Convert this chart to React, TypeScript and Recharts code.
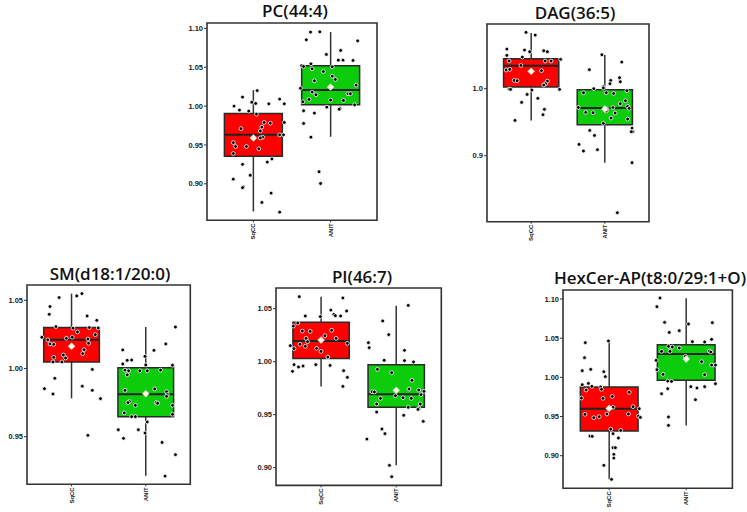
import React from 'react';
import { ComposedChart, Scatter, XAxis, YAxis, ReferenceArea, ReferenceLine } from 'recharts';

type Pt = [number, number];

const groups = ['SqCC', 'ANIT'];
const boxColors = ['#ff0000', '#0ccc0c'];

// stats per group: [lowerWhisker, q1, median, q3, upperWhisker, mean]
const pcStats = [
  [0.8644, 0.9356, 0.9631, 0.9906, 1.0206, 0.959],
  [0.9605, 1.0017, 1.0206, 1.0519, 1.0953, 1.0245],
];
const pcSqcc: Pt[] = [[1.05,1.020],[0.86,1.0116],[0.75,1.000],[0.82,0.9949],[0.94,0.9936],[0.98,1.005],[1.03,1.0034],[1.20,1.003],[1.34,1.009],[1.40,1.003],[1.04,0.9897],[1.14,0.979],[1.22,0.978],[1.40,0.979],[0.84,0.971],[1.11,0.973],[1.09,0.968],[1.12,0.960],[1.09,0.959],[1.34,0.963],[1.39,0.963],[0.74,0.953],[0.77,0.948],[0.91,0.948],[0.74,0.939],[1.07,0.945],[1.18,0.928],[1.24,0.932],[0.86,0.925],[0.96,0.911],[0.74,0.906],[0.87,0.896],[0.86,0.895],[1.23,0.888],[1.11,0.876],[1.34,0.8635]];
const pcAnit: Pt[] = [[1.74,1.0953],[1.86,1.0957],[1.685,1.0854],[2.35,1.084],[1.945,1.0665],[2.13,1.0717],[2.10,1.0592],[2.16,1.0592],[2.29,1.0588],[1.745,1.0545],[1.625,1.052],[1.65,1.051],[2.02,1.0506],[1.76,1.048],[1.905,1.0446],[2.02,1.0386],[2.06,1.0343],[1.79,1.0326],[1.61,1.023],[2.33,1.027],[1.76,1.018],[1.81,1.0146],[2.225,1.0159],[2.255,1.0159],[1.72,1.0086],[1.64,1.0056],[2.00,1.0077],[2.165,1.0073],[2.31,1.0017],[1.95,0.9987],[2.12,0.9974],[2.11,0.996],[1.65,0.994],[1.79,0.991],[1.65,0.9777],[1.745,0.960],[1.85,0.9155],[1.87,0.9004]];

const dagStats = [
  [0.9527, 1.0025, 1.0343, 1.0448, 1.0831, 1.0259],
  [0.8896, 0.9463, 0.9711, 0.9985, 1.0502, 0.9697],
];
const dagSqcc: Pt[] = [[0.93,1.0841],[1.055,1.080],[0.67,1.0592],[0.98,1.0552],[1.17,1.0567],[0.91,1.0577],[1.22,1.0552],[0.67,1.0498],[0.70,1.0413],[0.88,1.0473],[1.19,1.0413],[1.27,1.0413],[1.40,1.0438],[0.66,1.0279],[0.71,1.0289],[0.86,1.0348],[1.14,1.0269],[0.77,1.0124],[0.81,1.0119],[1.22,1.0114],[1.195,1.0075],[1.17,1.0055],[0.70,0.9995],[0.72,0.999],[1.01,0.998],[1.385,0.999],[0.945,0.9915],[1.09,0.9856],[0.87,0.9796],[1.18,0.9692],[1.16,0.9612],[0.78,0.9527]];
const dagAnit: Pt[] = [[1.96,1.0507],[2.23,1.0398],[1.79,1.0284],[2.20,1.0164],[2.08,1.0124],[2.21,1.0104],[2.07,1.0075],[1.98,1.003],[1.98,1.001],[1.85,1.000],[2.30,0.997],[1.71,0.994],[2.02,0.994],[2.12,0.993],[2.28,0.982],[2.21,0.9776],[2.11,0.972],[2.31,0.9736],[2.33,0.9706],[1.64,0.972],[1.74,0.9647],[1.84,0.9642],[2.02,0.9667],[2.03,0.9697],[2.14,0.9637],[2.085,0.9562],[2.31,0.9547],[1.98,0.9483],[1.795,0.9378],[1.86,0.9303],[2.37,0.9413],[2.38,0.9358],[2.36,0.9358],[1.65,0.9169],[1.71,0.907],[1.90,0.909],[2.37,0.8896],[2.17,0.8149]];

const smStats = [
  [0.9781, 1.0048, 1.0211, 1.030, 1.0549, 1.0163],
  [0.9214, 0.9647, 0.9811, 1.0006, 1.0304, 0.9815],
];
const smSqcc: Pt[] = [[0.833,1.052],[1.07,1.0532],[1.14,1.0549],[0.71,1.0454],[0.70,1.0397],[1.21,1.0385],[1.34,1.0353],[0.79,1.0307],[1.02,1.0295],[1.24,1.030],[1.36,1.0297],[1.32,1.0248],[0.60,1.0229],[0.68,1.0211],[0.93,1.0221],[1.08,1.0268],[1.01,1.0229],[1.22,1.0216],[0.71,1.018],[0.76,1.0177],[1.23,1.0185],[1.17,1.0138],[0.89,1.0099],[1.15,1.0109],[0.76,1.0082],[0.92,1.0077],[0.75,1.0048],[0.87,1.0048],[1.28,0.9993],[0.775,0.9928],[0.635,0.9852],[1.145,0.987],[1.28,0.984],[0.75,0.9813],[1.39,0.9779],[1.22,0.951]];
const smAnit: Pt[] = [[2.40,1.0304],[2.27,1.018],[1.69,1.0136],[2.11,1.0133],[1.99,1.0089],[1.75,1.006],[1.81,1.0062],[1.69,1.0033],[2.0,1.0026],[2.36,1.0024],[1.72,0.9988],[1.77,0.9983],[1.92,0.9983],[2.02,0.9983],[2.20,0.9988],[1.75,0.9953],[1.72,0.984],[2.12,0.985],[2.28,0.983],[2.29,0.9808],[2.28,0.9796],[1.78,0.9757],[1.76,0.975],[2.14,0.975],[2.16,0.9745],[1.86,0.973],[2.36,0.973],[1.71,0.9674],[1.81,0.9647],[1.86,0.9647],[2.36,0.9664],[2.02,0.9608],[1.63,0.9551],[1.90,0.9551],[1.99,0.9527],[1.70,0.9488],[2.22,0.9458],[2.40,0.9368],[2.26,0.9211]];

const piStats = [
  [0.9767, 1.0031, 1.0195, 1.0371, 1.0613, 1.0204],
  [0.9022, 0.957, 0.9692, 0.9972, 1.0528, 0.973],
];
const piSqcc: Pt[] = [[0.71,1.0613],[1.29,1.0601],[0.79,1.0431],[0.99,1.0425],[1.13,1.0487],[1.17,1.0447],[1.19,1.0434],[1.26,1.0431],[1.34,1.0478],[0.69,1.0365],[0.63,1.0336],[0.75,1.0289],[0.855,1.0286],[1.14,1.0296],[1.05,1.0245],[1.20,1.022],[0.80,1.022],[0.82,1.0189],[0.72,1.0164],[0.59,1.0151],[0.79,1.0145],[0.64,1.0123],[0.94,1.0126],[1.0,1.0097],[1.35,1.0173],[1.09,1.0044],[0.64,0.9972],[0.93,0.9972],[1.12,0.9965],[0.70,0.995],[0.76,0.9959],[0.62,0.9909],[1.30,0.9915],[1.35,0.9852],[1.29,0.9767]];
const piAnit: Pt[] = [[2.16,1.0531],[1.82,1.0384],[1.90,1.0255],[1.63,1.0179],[1.64,1.0132],[2.11,1.0107],[2.23,0.9997],[1.84,1.0013],[2.11,1.001],[1.75,0.9928],[1.94,0.9896],[2.21,0.9824],[1.68,0.9717],[1.71,0.9714],[2.17,0.9742],[2.30,0.9733],[2.37,0.972],[1.99,0.9679],[2.33,0.9689],[2.09,0.966],[1.79,0.9654],[2.20,0.9654],[1.74,0.9601],[2.32,0.9601],[2.16,0.957],[2.30,0.956],[2.29,0.955],[1.74,0.9525],[2.10,0.9494],[2.36,0.9437],[1.81,0.9365],[1.85,0.9321],[1.61,0.927],[1.91,0.9022],[1.94,0.8915]];

const hexStats = [
  [0.8698, 0.9315, 0.960, 0.9877, 1.0472, 0.9604],
  [0.9387, 0.9962, 1.0298, 1.0417, 1.1009, 1.0234],
];
const hexSqcc: Pt[] = [[0.69,1.0443],[0.99,1.0464],[0.68,1.0251],[0.65,1.0085],[0.76,1.0102],[0.93,1.0072],[0.95,1.0009],[0.65,0.9906],[0.73,0.9923],[0.775,0.9885],[0.89,0.9877],[0.90,0.9847],[0.70,0.9838],[0.64,0.9736],[0.92,0.9732],[1.04,0.9757],[1.26,0.9809],[0.685,0.9528],[0.80,0.9485],[0.87,0.9498],[0.97,0.9532],[1.05,0.9617],[1.25,0.9532],[1.31,0.9626],[1.39,0.960],[1.38,0.9506],[1.405,0.9489],[1.02,0.934],[1.15,0.9323],[1.05,0.9281],[1.12,0.9226],[0.75,0.9251],[0.78,0.9247],[1.05,0.9102],[1.08,0.9102],[1.06,0.9017],[1.06,0.897],[0.93,0.8877],[1.03,0.8698]];
const hexAnit: Pt[] = [[1.66,1.1013],[1.62,1.0902],[1.72,1.0702],[2.03,1.0681],[2.34,1.0698],[1.78,1.0574],[1.91,1.0596],[2.33,1.0485],[2.08,1.0455],[2.24,1.0451],[1.77,1.0396],[1.82,1.0387],[1.91,1.0374],[1.68,1.0332],[1.79,1.0332],[2.30,1.0336],[2.32,1.0323],[1.99,1.0268],[2.0,1.0238],[1.61,1.0217],[2.38,1.0157],[2.33,1.0157],[2.20,1.020],[1.62,1.0098],[1.70,1.0038],[2.24,1.0034],[1.76,0.9953],[1.81,0.9949],[2.38,0.9919],[2.06,0.9881],[2.14,0.9864],[2.24,0.9881],[1.76,0.9855],[1.68,0.9791],[2.12,0.9715],[1.77,0.9494],[1.77,0.9387]];

const pcTicks = [0.9, 0.95, 1.0, 1.05, 1.1];
const dagTicks = [0.9, 1.0];
const smTicks = [0.95, 1.0, 1.05];
const piTicks = [0.9, 0.95, 1.0, 1.05];
const hexTicks = [0.9, 0.95, 1.0, 1.05, 1.1];

const toObjs = (pts: Pt[]) => pts.map(([x, y]) => ({ x, y }));

const Dot = (props: any) => (
  <circle cx={props.cx} cy={props.cy} r={1.9} fill="#000" stroke="#fff" strokeWidth={0.8} />
);
const MeanMark = (props: any) => {
  const { cx, cy } = props;
  const s = 3.4;
  return (
    <polygon
      points={`${cx},${cy - s} ${cx + s},${cy} ${cx},${cy + s} ${cx - s},${cy}`}
      fill="#fffdf0"
      stroke="#e8e8c0"
      strokeWidth={0.6}
    />
  );
};

const XTick = (props: any) => {
  const { x, y, payload } = props;
  return (
    <text
      transform={`translate(${x + 2},${y - 1}) rotate(-90)`}
      textAnchor="end"
      fontSize={6}
      fontWeight={700}
      fontFamily="Liberation Sans, Arial, sans-serif"
      fill="#222"
    >
      {groups[payload.value - 1]}
    </text>
  );
};

type PanelProps = {
  title: string;
  left: number;
  top: number;
  w: number;
  h: number;
  domain: [number, number];
  ticks: number[];
  digits: number;
  sqcc: Pt[];
  anit: Pt[];
  stats: number[][];
  titleX: number;
  titleY: number;
};

const HALF = 0.375;

function Panel(p: PanelProps) {
  const ML = 40;
  const MT = 4;
  const XH = 26;
  const sets = [toObjs(p.sqcc), toObjs(p.anit)];
  return (
    <>
      <div
        style={{
          position: 'absolute',
          left: p.titleX - 150,
          width: 300,
          top: p.titleY - 12,
          height: 24,
          lineHeight: '24px',
          textAlign: 'center',
          fontFamily: '"Open Sans", sans-serif',
          fontWeight: 600,
          fontSize: 17,
          color: '#111',
          whiteSpace: 'nowrap',
        }}
      >
        {p.title}
      </div>
      <div style={{ position: 'absolute', left: p.left - ML, top: p.top - MT }}>
        <ComposedChart
          width={p.w + ML + 4}
          height={p.h + MT + XH}
          margin={{ top: MT, right: 4, bottom: 0, left: 0 }}
        >
          <XAxis
            type="number"
            dataKey="x"
            domain={[0.4, 2.6]}
            ticks={[1, 2]}
            interval={0}
            allowDataOverflow
            height={XH}
            axisLine={false}
            tickLine={{ stroke: '#333' }}
            tickSize={2}
            tick={<XTick />}
          />
          <YAxis
            type="number"
            dataKey="y"
            domain={p.domain}
            ticks={p.ticks}
            interval={0}
            allowDataOverflow
            width={ML}
            axisLine={false}
            tickLine={{ stroke: '#333' }}
            tickSize={3}
            tickMargin={1}
            tick={{ fontSize: 7.5, fill: '#1a1a1a', fontWeight: 700, fontFamily: 'Liberation Sans, Arial, sans-serif' }}
            tickFormatter={(v: number) => v.toFixed(p.digits)}
          />
          <ReferenceArea
            x1={0.4}
            x2={2.6}
            y1={p.domain[0]}
            y2={p.domain[1]}
            fill="none"
            fillOpacity={0}
            stroke="#333"
            strokeWidth={1.6}
            ifOverflow="visible"
          />
          {p.stats.map((s, i) => (
            <ReferenceLine
              key={`wl${i}`}
              segment={[{ x: i + 1, y: s[0] }, { x: i + 1, y: s[1] }]}
              stroke="#333"
              strokeWidth={1.5}
              ifOverflow="visible"
            />
          ))}
          {p.stats.map((s, i) => (
            <ReferenceLine
              key={`wu${i}`}
              segment={[{ x: i + 1, y: s[3] }, { x: i + 1, y: s[4] }]}
              stroke="#333"
              strokeWidth={1.5}
              ifOverflow="visible"
            />
          ))}
          {p.stats.map((s, i) => (
            <ReferenceArea
              key={`b${i}`}
              x1={i + 1 - HALF}
              x2={i + 1 + HALF}
              y1={s[1]}
              y2={s[3]}
              fill={boxColors[i]}
              fillOpacity={1}
              stroke="#2a2a2a"
              strokeWidth={1.5}
              ifOverflow="visible"
            />
          ))}
          {p.stats.map((s, i) => (
            <ReferenceLine
              key={`m${i}`}
              segment={[{ x: i + 1 - HALF, y: s[2] }, { x: i + 1 + HALF, y: s[2] }]}
              stroke="#222"
              strokeWidth={2}
              ifOverflow="visible"
            />
          ))}
          {sets.map((d, i) => (
            <Scatter key={`p${i}`} data={d} shape={<Dot />} isAnimationActive={false} />
          ))}
          <Scatter
            data={p.stats.map((s, i) => ({ x: i + 1, y: s[5] }))}
            shape={<MeanMark />}
            isAnimationActive={false}
          />
        </ComposedChart>
      </div>
    </>
  );
}

export default function App() {
  return (
    <div style={{ position: 'absolute', left: 0, top: 0, width: 747, height: 512, background: '#fff', overflow: 'hidden' }}>
      <Panel title="PC(44:4)" left={206.7} top={22.7} w={170} h={197.3} domain={[0.853, 1.107]} ticks={pcTicks} digits={2} sqcc={pcSqcc} anit={pcAnit} stats={pcStats} titleX={295} titleY={11} />
      <Panel title="DAG(36:5)" left={487.3} top={24} w={162} h={197.7} domain={[0.8015, 1.0966]} ticks={dagTicks} digits={1} sqcc={dagSqcc} anit={dagAnit} stats={dagStats} titleX={575} titleY={13} />
      <Panel title="SM(d18:1/20:0)" left={26.7} top={285} w={163.3} h={199.3} domain={[0.9151, 1.0612]} ticks={smTicks} digits={2} sqcc={smSqcc} anit={smAnit} stats={smStats} titleX={110} titleY={274} />
      <Panel title="PI(46:7)" left={275.7} top={288.3} w={165.3} h={197.4} domain={[0.8833, 1.0695]} ticks={piTicks} digits={2} sqcc={piSqcc} anit={piAnit} stats={piStats} titleX={362} titleY={277} />
      <Panel title="HexCer-AP(t8:0/29:1+O)" left={563.3} top={290} w={169.4} h={198.3} domain={[0.8584, 1.1115]} ticks={hexTicks} digits={2} sqcc={hexSqcc} anit={hexAnit} stats={hexStats} titleX={650} titleY={278} />
    </div>
  );
}
